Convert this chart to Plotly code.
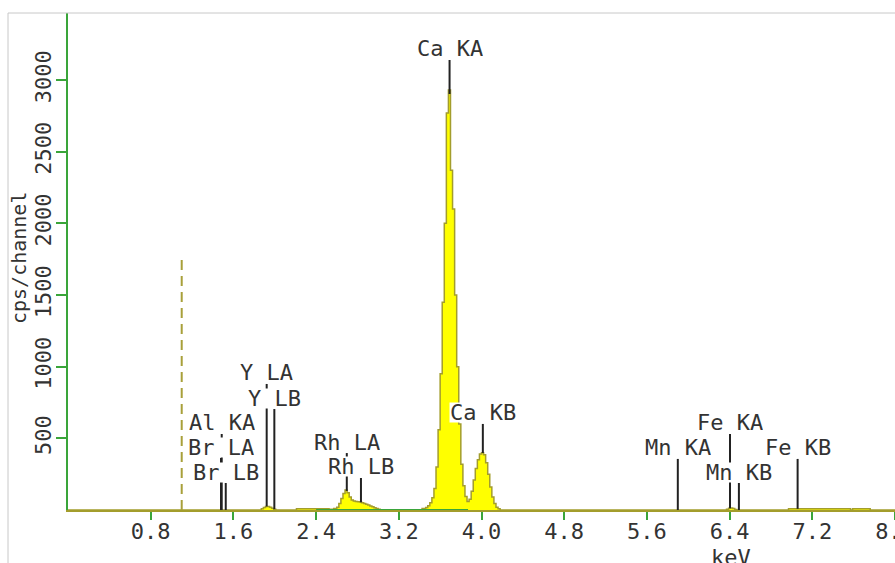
import numpy as np
import plotly.graph_objects as go

# ---- measured spectrum (keV, counts per second per channel) ----
spectrum_kev = [
    0.00, 1.86, 1.88, 1.90, 1.92, 1.94, 1.96, 1.98, 2.00, 2.02,
    2.20, 2.22, 2.30, 2.40, 2.50, 2.55, 2.59, 2.61, 2.63, 2.65, 2.67, 2.69,
    2.71, 2.73, 2.75, 2.77, 2.79, 2.81, 2.83, 2.85, 2.87, 2.89, 2.91, 2.93,
    2.95, 2.97, 2.99, 3.01, 3.03, 3.40,
    3.45, 3.47, 3.49, 3.51, 3.53, 3.55, 3.57, 3.59, 3.61, 3.63, 3.65, 3.67,
    3.69, 3.71, 3.73, 3.75, 3.77, 3.79, 3.81, 3.83, 3.85, 3.87, 3.89, 3.91,
    3.93, 3.95, 3.97, 3.99, 4.01, 4.03, 4.05, 4.07, 4.09, 4.11, 4.13, 4.15,
    4.17, 4.19, 6.36, 6.38, 6.40, 6.42, 6.44, 6.46, 6.48, 6.96, 6.98, 7.56,
    7.58, 7.60, 7.75, 7.77, 8.00,
]
spectrum_cps = [
    0, 0, 8, 18, 25, 25, 20, 12, 5, 0,
    0, 8, 9, 8, 8, 6, 10, 20, 45, 80, 115, 140,
    120, 90, 70, 62, 60, 58, 55, 50, 45, 40, 35, 28,
    22, 16, 10, 5, 0, 0,
    10, 18, 30, 50, 85, 150, 300, 560, 950, 1450, 2000, 2770,
    2930, 2370, 2100, 1500, 1000, 600, 320, 170, 95, 60, 75, 130,
    210, 290, 350, 390, 400, 385, 330, 250, 160, 90, 45, 20,
    8, 0, 0, 5, 12, 14, 10, 4, 0, 0, 8, 8,
    0, 8, 8, 0, 0,
]

# ---- KLM line markers ----
line_names = ["Al KA", "Br LA", "Br LB", "Y LA", "Y LB", "Rh LA", "Rh LB",
              "Ca KA", "Ca KB", "Mn KA", "Fe KA", "Mn KB", "Fe KB"]
line_kev = [1.487, 1.480, 1.526, 1.922, 1.996, 2.697, 2.834,
            3.691, 4.013, 5.899, 6.404, 6.490, 7.058]
# vertical placement of each marker label (cps)
label_cps = [607, 439, 265, 956, 781, 474, 300,
             3216, 677, 433, 607, 265, 433]

# ---- cursor / ROI markers ----
cursor_kev = 1.10
cursor_cps = 1756
roi_kev = [2.40, 3.87]

x_ticks = [0.8, 1.6, 2.4, 3.2, 4.0, 4.8, 5.6, 6.4, 7.2, 8.0]
y_ticks = [500, 1000, 1500, 2000, 2500, 3000]

X_RANGE = [0, 8.0]
Y_RANGE = [0, 3467]

W, H = 895, 563
ML, MR, MT, MB = 68, 0, 13, 53
PW, PH = W - ML - MR, H - MT - MB

FONT = "DejaVu Sans Mono"
TXT = "#333333"
GREEN = "#3aa53a"
OLIVE = "#a39d2c"


def px_x(px):
    return (px - ML) / PW


def px_y(px):
    return (H - MB - px) / PH


label_gap = (Y_RANGE[1] - Y_RANGE[0]) * 11 / PH  # label half-height in cps

fig = go.Figure()

fig.add_trace(go.Scatter(
    x=spectrum_kev, y=spectrum_cps, mode="lines", line_shape="hvh",
    fill="tozeroy", fillcolor="#ffff00",
    line=dict(color=OLIVE, width=1.5), hoverinfo="skip", showlegend=False,
))
fig.add_trace(go.Scatter(
    x=roi_kev, y=[0, 0], mode="lines", line=dict(color=GREEN, width=2),
    hoverinfo="skip", showlegend=False,
))

shapes = []
annotations = []

# cursor line
shapes.append(dict(type="line", xref="x", yref="y", x0=cursor_kev, x1=cursor_kev,
                   y0=0, y1=cursor_cps, line=dict(color="#a8a03a", width=2, dash="10px,6px")))

# marker lines and labels
for name, kev, lab in zip(line_names, line_kev, label_cps):
    base = float(np.interp(kev, spectrum_kev, spectrum_cps))
    shapes.append(dict(type="line", xref="x", yref="y", x0=kev, x1=kev,
                       y0=base, y1=lab - label_gap,
                       line=dict(color="#222222", width=2)))
    annotations.append(dict(x=kev, y=lab, xref="x", yref="y", text=name,
                            showarrow=False, xanchor="center", yanchor="middle",
                            bgcolor="white", borderpad=0, height=19,
                            font=dict(family=FONT, size=22, color=TXT)))

# outer frame (left and top edges)
fx = px_x(8)
shapes.append(dict(type="line", xref="paper", yref="paper", x0=fx, x1=fx,
                   y0=-1, y1=1, line=dict(color="#c8c8c8", width=1)))
shapes.append(dict(type="line", xref="paper", yref="paper", x0=fx, x1=1.2,
                   y0=1, y1=1, line=dict(color="#c8c8c8", width=1)))

# axis titles
annotations.append(dict(x=px_x(731), y=px_y(543), xref="paper", yref="paper",
                        text="keV", showarrow=False, xanchor="center", yanchor="top",
                        font=dict(family=FONT, size=22, color=TXT)))
annotations.append(dict(x=px_x(19), y=px_y(258), xref="paper", yref="paper",
                        text="cps/channel", showarrow=False, textangle=-90,
                        xanchor="center", yanchor="middle",
                        font=dict(family=FONT, size=20, color=TXT)))

fig.update_layout(
    width=W, height=H,
    margin=dict(l=ML, r=MR, t=MT, b=MB, pad=0, autoexpand=False),
    paper_bgcolor="white", plot_bgcolor="white",
    shapes=shapes, annotations=annotations,
    xaxis=dict(range=X_RANGE, tickvals=x_ticks, ticktext=[f"{v:.1f}" for v in x_ticks],
               ticks="outside", ticklen=8, tickwidth=2, tickcolor=GREEN,
               ticklabelstandoff=-7, ticklabeloverflow="allow", automargin=False,
               showline=True, linecolor=OLIVE, linewidth=2,
               showgrid=False, zeroline=False,
               tickfont=dict(family=FONT, size=22, color=TXT)),
    yaxis=dict(range=Y_RANGE, tickvals=y_ticks, tickangle=-90,
               ticks="outside", ticklen=10, tickwidth=2, tickcolor=GREEN,
               ticklabelstandoff=-4, automargin=False,
               showline=True, linecolor=GREEN, linewidth=2,
               showgrid=False, zeroline=False,
               tickfont=dict(family=FONT, size=22, color=TXT)),
)

fig.write_html("out.html")
